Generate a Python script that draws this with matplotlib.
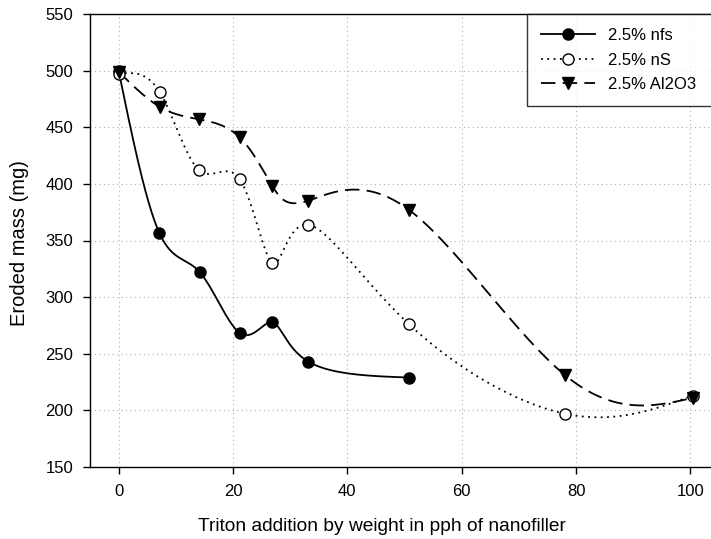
import numpy as np
import matplotlib
matplotlib.use('Agg')
import matplotlib.pyplot as plt
from matplotlib.lines import Line2D

plt.rcParams['font.family'] = ['Liberation Sans', 'DejaVu Sans']

# triton addition (pph of nanofiller) and eroded mass (mg)
x_nfs = [0, 7.1, 14.2, 21.3, 26.9, 33.2, 50.8]
y_nfs = [500, 357, 322, 268, 278, 243, 229]

x_ns = [0, 7.2, 14.1, 21.2, 26.9, 33.1, 50.8, 78.1, 100.4]
y_ns = [497, 481, 412, 404, 330, 364, 276, 197, 213]

x_al = [0, 7.2, 14.1, 21.2, 26.9, 33.1, 50.8, 78.1, 100.4]
y_al = [499, 468, 457, 441, 398, 385, 377, 231, 211]

labels = ['2.5% nfs', '2.5% nS', '2.5% Al2O3']


def natural_spline(t, v, ts):
    k = len(t)
    h = np.diff(t)
    A = np.zeros((k, k))
    b = np.zeros(k)
    A[0, 0] = A[-1, -1] = 1
    for i in range(1, k - 1):
        A[i, i - 1] = h[i - 1]
        A[i, i] = 2 * (h[i - 1] + h[i])
        A[i, i + 1] = h[i]
        b[i] = 6 * ((v[i + 1] - v[i]) / h[i] - (v[i] - v[i - 1]) / h[i - 1])
    m = np.linalg.solve(A, b)
    idx = np.clip(np.searchsorted(t, ts) - 1, 0, k - 2)
    t0 = ts - t[idx]
    t1 = t[idx + 1] - ts
    hi = h[idx]
    return (m[idx] * t1**3 / (6 * hi) + m[idx + 1] * t0**3 / (6 * hi)
            + (v[idx] / hi - m[idx] * hi / 6) * t1
            + (v[idx + 1] / hi - m[idx + 1] * hi / 6) * t0)


def smooth_curve(x, y, n=800):
    # parametric spline, one parameter step per point
    x = np.asarray(x, float)
    y = np.asarray(y, float)
    t = np.arange(len(x), dtype=float)
    ts = np.linspace(0, t[-1], n)
    return natural_spline(t, x, ts), natural_spline(t, y, ts)


fig = plt.figure(figsize=(7.11, 5.39), dpi=100)
ax = fig.add_axes([90 / 711, 1 - 467 / 539, 629 / 711, 453 / 539])
ax.set_xlim(-5, 105)
ax.set_ylim(150, 550)

styles = [
    dict(ls='-', marker='o', mfc='black'),
    dict(ls=(0, (1, 2.5)), marker='o', mfc='white'),
    dict(ls=(0, (8, 4)), marker='v', mfc='black'),
]
series = [(x_nfs, y_nfs), (x_ns, y_ns), (x_al, y_al)]

handles = []
for (xv, yv), st, lab in zip(series, styles, labels):
    xs, ys = smooth_curve(xv, yv)
    ax.plot(xs, ys, color='black', lw=1.3, ls=st['ls'], zorder=3)
    ax.plot(xv, yv, ls='none', marker=st['marker'], ms=8, mfc=st['mfc'],
            mec='black', mew=1, zorder=4)
    handles.append(Line2D([], [], color='black', lw=1.3, ls=st['ls'],
                          marker=st['marker'], ms=8, mfc=st['mfc'],
                          mec='black', label=lab))

ax.set_xticks(range(0, 101, 20))
ax.set_yticks(range(150, 551, 50))
ax.grid(True, color='#b0b0b0', ls=(0, (1, 3)), lw=0.8)
ax.set_axisbelow(True)
ax.tick_params(direction='out', length=5, width=1, labelsize=12, pad=7)
for s in ax.spines.values():
    s.set_linewidth(1)
ax.spines['right'].set_visible(False)

ax.set_xlabel('Triton addition by weight in pph of nanofiller', fontsize=13.8)
ax.set_ylabel('Eroded mass (mg)', fontsize=14.5)
ax.xaxis.set_label_coords((382 - 90) / 629, -0.113)
ax.yaxis.set_label_coords((29 - 90) / 629, 0.494)

leg = ax.legend(handles=handles, loc='upper left', bbox_to_anchor=(0.695, 0, 0.4, 1.0),
                mode='expand', borderaxespad=0, fontsize=12, handlelength=3.2,
                handletextpad=0.8, frameon=True, fancybox=False, edgecolor='black',
                borderpad=0.85, labelspacing=0.57)
leg.get_frame().set_linewidth(1)

fig.savefig('out.png', dpi=100)
